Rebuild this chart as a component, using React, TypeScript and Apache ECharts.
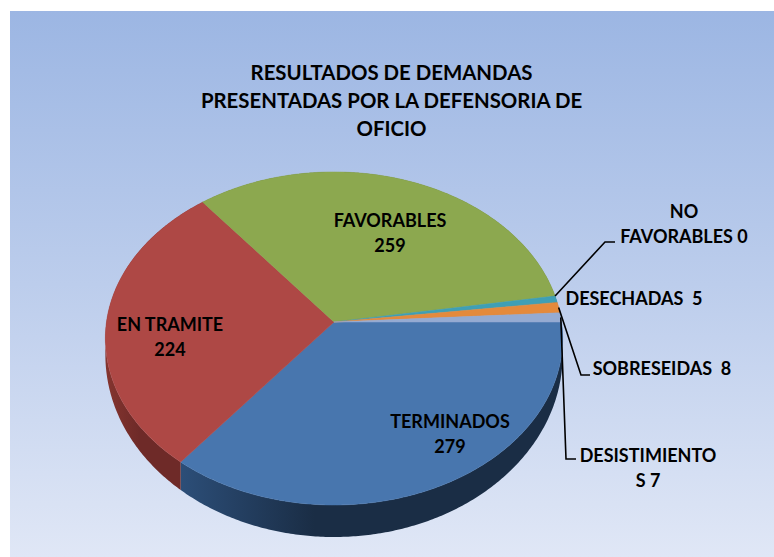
import React, { useEffect, useRef } from "react";
import * as echarts from "echarts";

const categories = ["TERMINADOS", "EN TRAMITE", "FAVORABLES", "NO FAVORABLES", "DESECHADAS", "SOBRESEIDAS", "DESISTIMIENTOS"];
const seriesValues = [279, 224, 259, 0, 5, 8, 7];
const topColors = ["#4876AE", "#AE4845", "#8CA84F", "#7D60A0", "#3F9FB5", "#E48A3C", "#95ABD2"];
const wallColors = [
  ["#2C4E78", "#1A2D45"],
  ["#85352F", "#6E2A28"],
  ["#5E7233", "#5E7233"],
  ["#4E3C66", "#4E3C66"],
  ["#2A6B7A", "#2A6B7A"],
  ["#A05F27", "#A05F27"],
  ["#66748F", "#66748F"],
];
const titleText = "RESULTADOS DE DEMANDAS\nPRESENTADAS POR LA DEFENSORIA DE\nOFICIO";
const labelTexts = [
  "TERMINADOS\n279",
  "EN TRAMITE\n224",
  "FAVORABLES\n259",
  "NO\nFAVORABLES 0",
  "DESECHADAS  5",
  "SOBRESEIDAS  8",
  "DESISTIMIENTO\nS 7",
];
const labelAnchors: [number, number][] = [
  [450, 433], [170, 336], [390, 232], [684, 223], [634, 298], [662, 368], [648, 467],
];
// Elbow and end point of each leader line, null where a label has none.
const leaders: ([number, number][] | null)[] = [
  null, null, null,
  [[605, 242], [615, 242]],
  null,
  [[581, 375], [590, 375]],
  [[566, 459], [576, 459]],
];

const CX = 334, CY = 322, R = 227.5, B = 164.9, K = 0.0989;
const DROP = 15, WALL_SCALE = 1.093;
const total = seriesValues.reduce((a, b) => a + b, 0);
const toAngle = (v: number) => (v / total) * Math.PI * 2;

// The perspective projection of the pie's disc.
const project = (t: number, yScale = 1, drop = 0): [number, number] => {
  const u = Math.cos(t), v = Math.sin(t), w = 1 - K * v;
  return [CX + (R * u) / w, CY + drop + (yScale * B * v) / w];
};

const edge = (a: number, b: number, yScale = 1, drop = 0) => {
  const n = Math.max(2, Math.ceil((b - a) / 0.01));
  const pts: [number, number][] = [];
  for (let i = 0; i <= n; i++) pts.push(project(a + ((b - a) * i) / n, yScale, drop));
  return pts;
};

const starts: number[] = [];
seriesValues.reduce((acc, v) => {
  starts.push(acc);
  return acc + v;
}, 0);
const seriesData = seriesValues.map((v, i) => ({ name: categories[i], value: [starts[i], v] }));

const App = () => {
  const ref = useRef<HTMLDivElement>(null);
  useEffect(() => {
    const chart = echarts.init(ref.current!, undefined, { renderer: "svg" });

    const graphics: any[] = [
      {
        type: "rect",
        z: -10,
        shape: { x: 10, y: 11, width: 764, height: 546 },
        style: {
          fill: new echarts.graphic.LinearGradient(0, 0, 0, 1, [
            { offset: 0, color: "#9CB6E3" },
            { offset: 0.5, color: "#BCCDEC" },
            { offset: 1, color: "#E0E7F6" },
          ]),
        },
      },
    ];
    labelTexts.forEach((text, i) => {
      graphics.push({
        type: "text",
        z: 20,
        style: {
          text,
          x: labelAnchors[i][0],
          y: labelAnchors[i][1],
          textAlign: "center",
          textVerticalAlign: "middle",
          fill: "#000",
          font: "bold 18px Lato",
          lineHeight: 25,
        },
      });
      const leader = leaders[i];
      if (leader) {
        const mid = toAngle(starts[i] + seriesValues[i] / 2);
        graphics.push({
          type: "polyline",
          z: 20,
          shape: { points: [project(mid), ...leader] },
          style: { stroke: "#000", lineWidth: 1.6, fill: "none" },
        });
      }
    });

    chart.setOption({
      animation: false,
      title: {
        text: titleText,
        left: 386.5,
        top: 53,
        textAlign: "center",
        textStyle: { fontFamily: "Lato", fontWeight: "bold", fontSize: 20.4, lineHeight: 28, color: "#000" },
      },
      graphic: graphics,
      series: [
        {
          type: "custom",
          coordinateSystem: "none",
          z: 2,
          silent: true,
          data: seriesData,
          renderItem: (params: any, api: any) => {
            const a = toAngle(api.value(0));
            const b = toAngle(api.value(0) + api.value(1));
            const top = edge(a, b);
            const bottom = edge(a, b, WALL_SCALE, DROP).reverse();
            const xs = top.map((p) => p[0]);
            const c = wallColors[params.dataIndex];
            return {
              type: "polygon",
              shape: { points: [...top, ...bottom] },
              style: {
                fill: new echarts.graphic.LinearGradient(
                  Math.min(...xs), 0, Math.max(...xs), 0,
                  [{ offset: 0, color: c[0] }, { offset: 0.35, color: c[1] }, { offset: 1, color: c[1] }],
                  true
                ),
              },
            };
          },
        },
        {
          type: "custom",
          coordinateSystem: "none",
          z: 3,
          silent: true,
          data: seriesData,
          renderItem: (params: any, api: any) => {
            const a = toAngle(api.value(0));
            const b = toAngle(api.value(0) + api.value(1));
            const color = topColors[params.dataIndex];
            return {
              type: "polygon",
              shape: { points: [[CX, CY], ...edge(a, b)] },
              style: { fill: color, stroke: color, lineWidth: api.value(1) > 0 ? 0.5 : 0 },
            };
          },
        },
      ],
    });
    return () => chart.dispose();
  }, []);
  return (
    <div
      ref={ref}
      style={{ position: "absolute", left: 0, top: 0, width: 774, height: 557, background: "#fff" }}
    />
  );
};

export default App;
